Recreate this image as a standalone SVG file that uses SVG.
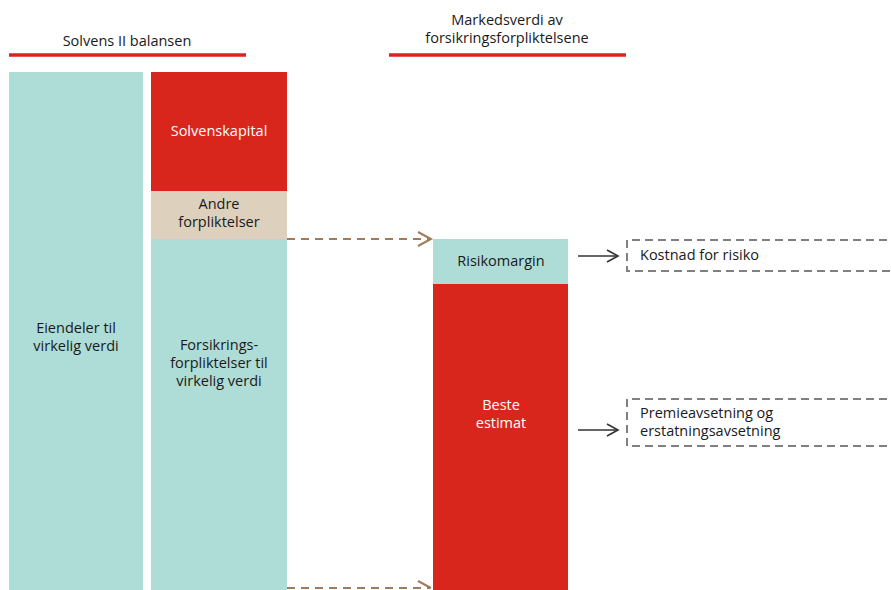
<svg xmlns="http://www.w3.org/2000/svg" width="891" height="590" viewBox="0 0 891 590">
<defs>
<style>
text{font-family:"Open Sans","DejaVu Sans",sans-serif;font-size:14.5px;fill:#1a1a1a;text-anchor:middle}
.w{fill:#ffffff}
.l{text-anchor:start}
.teal{fill:#aedcd6}
.red{fill:#d9261c}
.beige{fill:#ddd1bd}
.hdr{stroke:#d9261c;stroke-width:3.5}
.brown{stroke:#a07c5a;stroke-width:2;stroke-dasharray:8,6;fill:none}
.box{stroke:#808080;stroke-width:2;stroke-dasharray:8,5;fill:none}
.blk{stroke:#333;stroke-width:1.6;fill:none}
</style>
</defs>
<g id="header-left">
<text x="127" y="46">Solvens II balansen</text>
<line class="hdr" x1="9" y1="55" x2="246" y2="55"/>
</g>
<g id="header-right">
<text x="507" y="25">Markedsverdi av</text>
<text x="507" y="43">forsikringsforpliktelsene</text>
<line class="hdr" x1="389" y1="55" x2="626" y2="55"/>
</g>
<g id="eiendeler">
<rect class="teal" x="9" y="72" width="134" height="518"/>
<text x="76" y="333">Eiendeler til</text>
<text x="76" y="351">virkelig verdi</text>
</g>
<g id="solvenskapital">
<rect class="red" x="151" y="72" width="136" height="119"/>
<text class="w" x="219" y="136">Solvenskapital</text>
</g>
<g id="andre">
<rect class="beige" x="151" y="191" width="136" height="48"/>
<text x="219" y="209">Andre</text>
<text x="219" y="227">forpliktelser</text>
</g>
<g id="forsikrings">
<rect class="teal" x="151" y="239" width="136" height="351"/>
<text x="219" y="350">Forsikrings-</text>
<text x="219" y="368">forpliktelser til</text>
<text x="219" y="386">virkelig verdi</text>
</g>
<g id="risikomargin">
<rect class="teal" x="433" y="239" width="135" height="45"/>
<text x="501" y="266">Risikomargin</text>
</g>
<g id="beste">
<rect class="red" x="433" y="284" width="135" height="306"/>
<text class="w" x="501" y="410">Beste</text>
<text class="w" x="501" y="428">estimat</text>
</g>
<g id="kostnad">
<path class="box" d="M900,240 H627 V271 H900"/>
<text class="l" x="640" y="260">Kostnad for risiko</text>
</g>
<g id="premie">
<path class="box" d="M900,399 H627 V446 H900"/>
<text class="l" x="640" y="418">Premieavsetning og</text>
<text class="l" x="640" y="436">erstatningsavsetning</text>
</g>
<g id="connectors">
<line class="brown" x1="287" y1="239" x2="430" y2="239"/>
<path d="M418,232 L431,239 L418,246" stroke="#a07c5a" stroke-width="2" fill="none"/>
<line class="brown" x1="287" y1="588" x2="430" y2="588"/>
<path d="M418,581 L431,588" stroke="#a07c5a" stroke-width="2" fill="none"/>
<line class="blk" x1="578" y1="256" x2="617" y2="256"/>
<path class="blk" d="M607,250 L618,256 L607,262"/>
<line class="blk" x1="578" y1="430" x2="617" y2="430"/>
<path class="blk" d="M607,424 L618,430 L607,436"/>
</g>
</svg>
